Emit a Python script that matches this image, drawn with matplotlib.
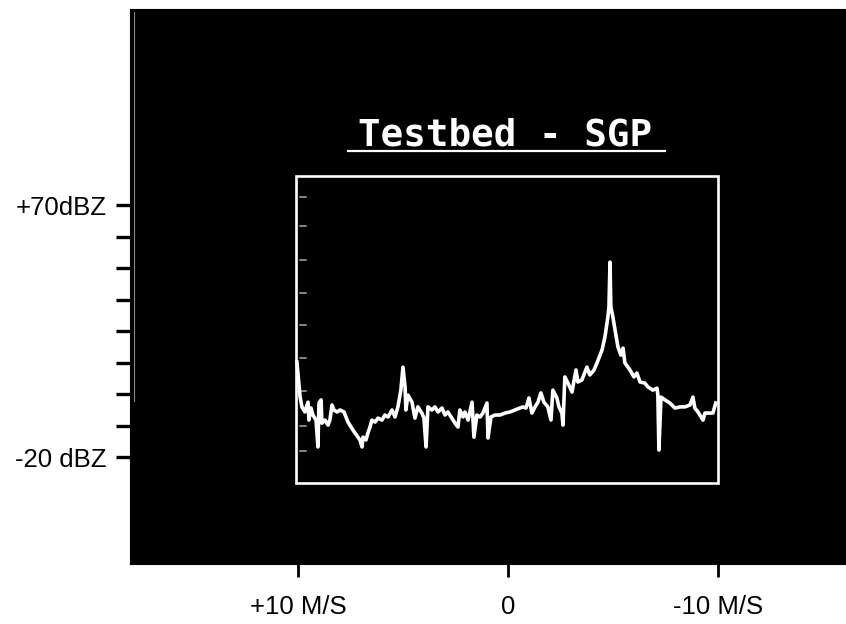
import matplotlib.pyplot as plt
from matplotlib.patches import Rectangle
import numpy as np

# Doppler spectrum, velocity (m/s) vs reflectivity (dBZ)
velocity = [10.05, 9.90, 9.81, 9.67, 9.52, 9.48, 9.38, 9.29, 9.14, 9.05, 9.00, 8.90, 8.86,
            8.71, 8.57, 8.48, 8.38, 8.29, 8.14, 8.00, 7.81, 7.62, 7.38, 7.14, 7.05, 6.95,
            6.90, 6.76, 6.67, 6.57, 6.48, 6.33, 6.19, 6.00, 5.86, 5.71, 5.52, 5.38, 5.24,
            5.10, 5.00, 4.90, 4.86, 4.76, 4.57, 4.43, 4.29, 4.10, 4.00, 3.90, 3.81, 3.62,
            3.48, 3.33, 3.14, 3.00, 2.86, 2.67, 2.52, 2.38, 2.29, 2.14, 2.05, 1.90, 1.71,
            1.62, 1.48, 1.33, 1.19, 1.00, 0.95, 0.81, 0.62, 0.38, 0.14, -0.10, -0.33,
            -0.57, -0.71, -0.86, -1.00, -1.14, -1.29, -1.43, -1.57, -1.71, -1.90, -2.05,
            -2.14, -2.33, -2.43, -2.57, -2.62, -2.71, -2.86, -3.05, -3.24, -3.33, -3.52,
            -3.76, -3.90, -4.10, -4.24, -4.48, -4.62, -4.76, -4.81, -4.86, -4.90, -5.00,
            -5.10, -5.24, -5.38, -5.48, -5.57, -5.81, -6.00, -6.14, -6.29, -6.52, -6.67,
            -6.90, -7.10, -7.14, -7.19, -7.29, -7.48, -7.71, -7.95, -8.19, -8.43, -8.67,
            -8.81, -8.90, -9.05, -9.29, -9.38, -9.62, -9.76, -9.90]
dbz = [13.9, 1.4, -2.1, -3.9, -0.4, -6.8, -2.5, -5.0, -6.8, -16.4, -0.7, 0.4, -7.9,
       -6.8, -8.6, -6.8, -1.4, -3.2, -3.9, -3.2, -3.9, -7.5, -10.4, -12.9, -13.9, -16.4,
       -12.9, -13.9, -11.4, -9.3, -6.8, -7.5, -6.1, -6.8, -5.0, -5.7, -3.2, -5.7, -2.1,
       3.9, 12.1, 5.0, -3.2, 2.1, -0.4, -6.1, -2.1, -4.3, -6.1, -16.4, -2.1, -3.2,
       -2.1, -3.9, -2.5, -5.0, -3.9, -6.1, -7.9, -9.3, -3.2, -5.7, -3.9, -6.8, -0.4,
       -12.9, -5.0, -5.7, -4.3, -0.7, -13.2, -5.7, -5.0, -5.0, -4.3, -3.9, -3.2,
       -2.5, -2.1, -2.5, 1.1, -4.3, -2.1, -0.4, 2.9, -0.4, -2.1, -6.8,
       3.9, 1.1, -2.1, -4.3, -8.6, 8.6, 6.4, 3.2, 11.1, 6.8, 7.5,
       12.1, 9.3, 11.1, 13.6, 18.2, 22.9, 30.0, 33.6, 49.6, 33.6, 30.0,
       25.4, 19.3, 16.4, 18.9, 13.6, 11.1, 8.6, 10.0, 6.8, 6.4, 5.0,
       3.9, 4.6, 2.1, -17.5, 1.4, 0.4, -0.7, -2.5, -2.1, -2.1, -1.4,
       1.4, -2.5, -3.9, -6.8, -4.3, -4.3, -4.3, -0.7]

y_ticks = np.linspace(70, -20, 9)
y_labels = ["+70dBZ", "", "", "", "", "", "", "", "-20 dBZ"]
x_ticks = [10, 0, -10]
x_labels = ["+10 M/S", "0", "-10 M/S"]
# faint scale marks inside the plot frame
inner_marks = [73, 62.5, 50.5, 38.5, 27, 15.5, 3.5, -9, -18]

fig = plt.figure(figsize=(8.46, 6.24), dpi=100)
ax = fig.add_axes([130/846, 60/624, 716/846, 555/624])
ax.set_facecolor("black")
ax.set_xlim(18.0, -16.1)
ax.set_ylim(-58.2, 140)
for s in ax.spines.values():
    s.set_color("black")

# plot frame and title
ax.add_patch(Rectangle((-9.99, -29.3), 20.09, 109.8, fill=False, ec="white", lw=1.9))
ax.text(0.14, 91.4, "Testbed - SGP", color="white", ha="center", va="baseline",
        family="DejaVu Sans Mono", weight="bold", fontsize=27)
ax.plot([7.62, -7.48], [89.3, 89.3], color="white", lw=1.6)

for m in inner_marks:
    ax.plot([9.90, 9.62], [m, m], color="#aaaaaa", lw=1.1)

# spectrum
ax.plot(velocity, dbz, color="white", lw=2.6, solid_joinstyle="round")

# scan artefact line at the left of the black area
ax.plot([17.8, 17.8], [139, 0], color="#888888", lw=0.8)

ax.set_yticks(y_ticks)
ax.set_yticklabels(y_labels, fontsize=18.5, family="Liberation Sans")
ax.set_xticks(x_ticks)
ax.set_xticklabels(x_labels, fontsize=18.5, family="Liberation Sans")
ax.tick_params(axis="y", direction="out", length=10, width=2.4, color="black", pad=7)
ax.tick_params(axis="x", direction="out", length=9.5, width=2.0, color="black", pad=13)

plt.savefig("out.png", dpi=100, facecolor="white")
